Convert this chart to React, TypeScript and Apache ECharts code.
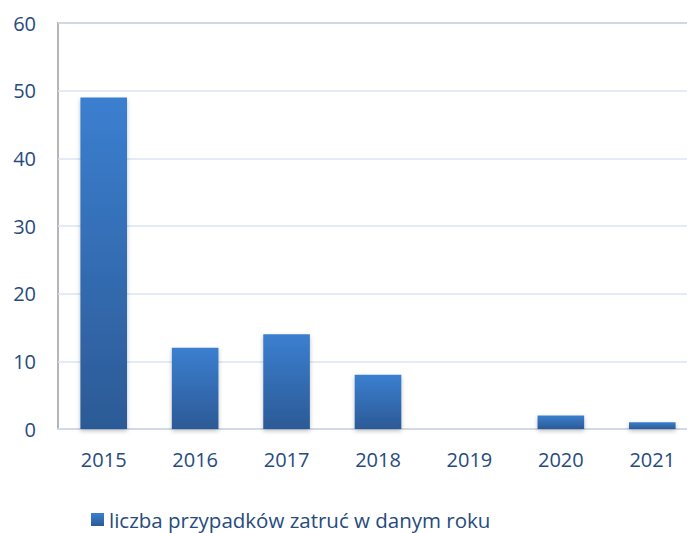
import React, { useEffect, useRef } from "react";
import * as echarts from "echarts";

const categories = ["2015", "2016", "2017", "2018", "2019", "2020", "2021"];
const values = [49, 12, 14, 8, 0, 2, 1];
const seriesName = "liczba przypadków zatruć w danym roku";
const yMin = 0;
const yMax = 60;
const yInterval = 10;

export default function App() {
  const ref = useRef<HTMLDivElement>(null);
  useEffect(() => {
    if (!ref.current) return;
    const chart = echarts.init(ref.current, null, { renderer: "svg" });
    const textColor = "#264b7e";
    const font = "Open Sans";
    chart.setOption({
      animation: false,
      grid: {
        left: 58,
        top: 23,
        width: 640,
        bottom: 104,
        outerBoundsMode: "none",
        containLabel: false,
        show: true,
        borderColor: "#b5b5b5",
        borderWidth: 2,
      },
      legend: {
        left: 91,
        top: 509,
        padding: 0,
        itemWidth: 13,
        itemHeight: 13,
        itemGap: 4,
        textStyle: { color: textColor, fontSize: 20.5, lineHeight: 20, fontFamily: font },
        data: [{ name: seriesName, icon: "rect" }],
      },
      xAxis: {
        type: "category",
        data: categories,
        axisLine: { show: true, lineStyle: { color: "#cfdbea", width: 2 } },
        axisTick: { show: false },
        axisLabel: { color: textColor, fontSize: 20, fontFamily: font, margin: 20 },
      },
      yAxis: {
        type: "value",
        min: yMin,
        max: yMax,
        interval: yInterval,
        axisLine: { show: false },
        axisTick: { show: false },
        splitLine: { lineStyle: { color: "#d8e4f3", width: 1.5 } },
        axisLabel: { color: textColor, fontSize: 20, fontFamily: font, margin: 22 },
      },
      series: [
        {
          name: seriesName,
          type: "bar",
          data: values,
          barWidth: "51%",
          itemStyle: {
            color: new echarts.graphic.LinearGradient(0, 0, 0, 1, [
              { offset: 0, color: "#3b7fd0" },
              { offset: 1, color: "#2c5a96" },
            ]),
            shadowColor: "rgba(0,0,0,0.25)",
            shadowBlur: 4,
            shadowOffsetY: 2,
          },
        },
      ],
    });
    return () => chart.dispose();
  }, []);
  return <div ref={ref} style={{ width: 687, height: 533, position: "absolute", left: 0, top: 0 }} />;
}
